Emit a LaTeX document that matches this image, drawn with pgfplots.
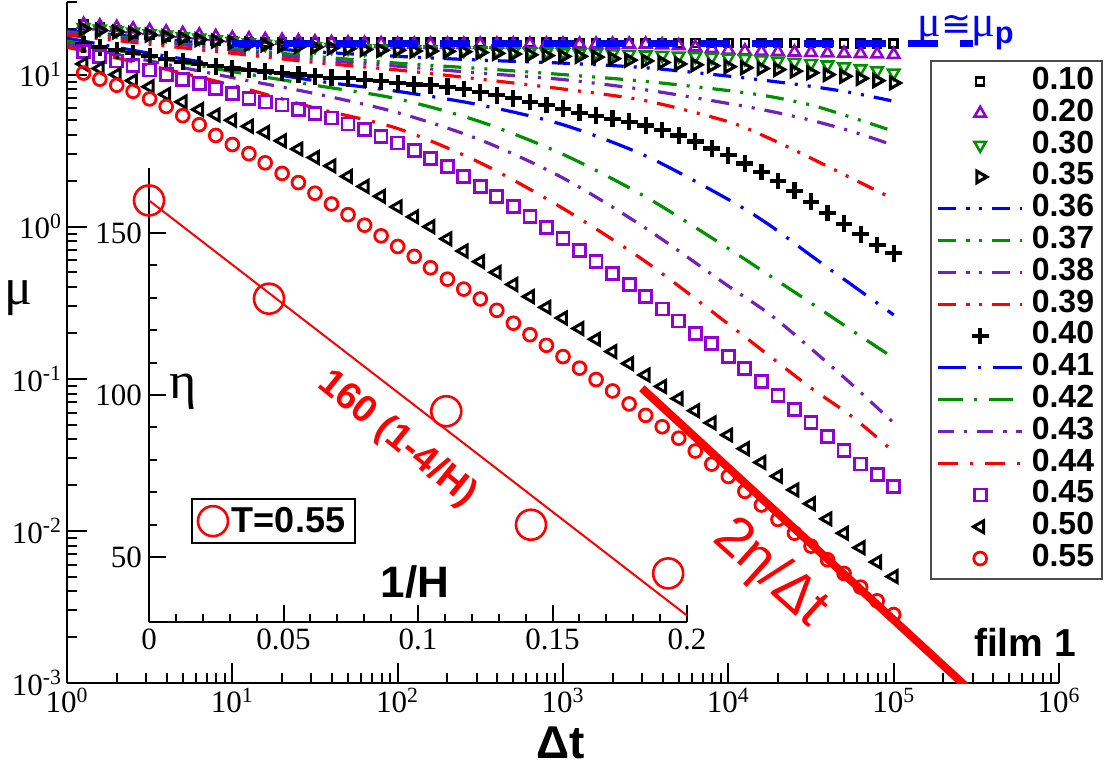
\documentclass[border=0pt]{standalone}
\usepackage{fontspec}
\setmainfont{Liberation Sans}
\newfontfamily\serif{Liberation Serif}
\newfontfamily\dejavu{DejaVu Sans}
\usepackage{pgfplots}
\usepackage{pgfplotstable}
\pgfplotsset{compat=1.18}
\definecolor{xblue}{RGB}{0,0,255}
\definecolor{xgreen}{RGB}{0,145,0}
\definecolor{xviolet}{RGB}{148,0,211}
\definecolor{xindigo}{RGB}{114,33,188}
\definecolor{xred}{RGB}{255,0,0}

% marker series: a=0.10 b=0.20 c=0.30 d=0.35 e=0.40 f=0.45 g=0.50 h=0.55
\pgfplotstableread{
dt a b c d e f g h
1.26 21.38 21.38 20.42 19.95 15.85 14.13 11.75 10.23
1.58 20.42 20.89 19.95 19.50 15.14 13.18 10.96 9.33
2.00 19.50 20.42 19.50 19.05 14.45 12.30 10.0 8.51
2.51 18.62 19.95 19.05 18.62 13.80 11.48 9.12 7.76
3.16 18.20 19.50 18.62 18.20 13.18 10.72 8.32 6.92
3.98 17.78 19.05 18.20 17.78 12.59 10.0 7.41 6.17
5.01 17.38 18.62 17.78 17.38 12.16 9.33 6.61 5.37
6.31 16.98 18.20 17.38 16.98 11.75 8.71 5.89 4.68
7.94 16.79 17.78 16.98 16.60 11.35 8.13 5.43 3.98
10 16.60 17.38 16.60 16.22 10.96 7.50 5.01 3.47
12.6 16.41 17.18 16.22 15.85 10.72 7.00 4.57 3.02
15.8 16.22 16.98 15.85 15.67 10.47 6.61 4.17 2.63
20.0 16.22 16.79 15.67 15.49 10.23 6.31 3.67 2.24
25.1 16.22 16.60 15.49 15.31 10.0 5.89 3.24 1.95
31.6 16.22 16.41 15.31 15.14 9.77 5.56 2.85 1.66
39.8 16.22 16.22 15.14 14.96 9.55 5.19 2.51 1.41
50.1 16.22 16.14 14.96 14.79 9.44 4.73 2.14 1.20
63.1 16.22 16.03 14.79 14.62 9.23 4.35 1.84 1.023
79.4 16.22 15.96 14.79 14.45 9.02 3.94 1.585 0.871
100 16.22 15.85 14.69 14.45 8.81 3.55 1.349 0.741
126 16.22 15.85 14.62 14.29 8.61 3.16 1.161 0.638
158 16.22 15.85 14.59 14.29 8.51 2.82 1.0 0.537
200 16.22 15.85 14.55 14.22 8.32 2.48 0.832 0.452
251 16.22 15.85 14.45 14.13 8.04 2.14 0.692 0.389
316 16.22 15.85 14.35 13.96 7.67 1.84 0.589 0.335
398 16.22 15.85 14.29 13.80 7.33 1.585 0.501 0.282
501 16.22 15.85 14.19 13.65 7.00 1.365 0.417 0.232
631 16.22 15.85 14.13 13.49 6.61 1.17 0.347 0.195
794 16.22 15.85 14.03 13.34 6.31 0.989 0.295 0.166
1000 16.22 15.85 13.96 13.18 5.96 0.832 0.251 0.140
1259 16.1 15.85 13.87 13.18 5.62 0.700 0.214 0.1175
1585 16.1 15.85 13.80 13.03 5.37 0.589 0.182 0.0989
1995 16.1 15.85 13.71 12.74 5.13 0.495 0.151 0.0832
2512 16.1 15.85 13.61 12.45 4.90 0.417 0.126 0.0684
3162 16.1 15.85 13.49 12.30 4.62 0.347 0.1059 0.0575
3981 16.1 15.67 13.40 12.02 4.32 0.288 0.0891 0.0484
5012 16.1 15.49 13.27 11.75 3.98 0.240 0.0741 0.0407
6310 16.1 15.14 13.18 11.59 3.63 0.1995 0.0617 0.0335
7943 16.1 14.79 13.03 11.43 3.27 0.170 0.0513 0.0275
10000 16.1 14.45 12.88 11.27 2.95 0.141 0.0427 0.0228
12589 16.1 14.29 12.76 11.09 2.60 0.1175 0.0347 0.0182
15849 16.1 14.19 12.53 10.96 2.29 0.0955 0.0282 0.0148
19953 16.1 14.13 12.30 10.79 2.00 0.0776 0.0229 0.0119
25119 16.1 14.03 12.08 10.54 1.72 0.0631 0.0186 0.00966
31623 16.1 13.96 11.83 10.28 1.46 0.0513 0.0151 0.00794
39811 16.1 13.87 11.59 10.0 1.23 0.0417 0.0120 0.00646
50119 16.0 13.80 11.27 9.75 1.047 0.0339 0.00966 0.00525
63096 16.0 13.71 10.96 9.44 0.891 0.0275 0.00776 0.00427
79433 16.0 13.65 10.62 9.12 0.759 0.0234 0.00624 0.00347
100000 16.0 13.55 10.26 8.81 0.668 0.0195 0.00501 0.00282
}\marks

% line series
\pgfplotstableread{
dt l36 l37 l38 l39 l41 l42 l43 l44
1 19.50 19.05 18.62 18.20 17.38 16.60 15.85 15.14
3.16 17.38 16.98 16.60 15.85 13.80 13.18 12.30 11.48
10 15.49 14.79 14.45 13.80 11.22 10.47 9.55 8.51
31.6 14.13 13.18 12.59 12.02 9.12 8.51 7.50 6.03
100 13.18 11.89 11.35 10.72 7.76 6.92 5.62 4.42
316 12.45 10.96 10.23 9.33 6.31 4.90 3.72 2.63
1000 11.89 10.0 9.27 8.04 4.68 2.99 2.09 1.318
3162 11.09 9.02 7.94 6.73 2.92 1.57 0.977 0.589
10000 9.77 7.85 6.46 4.90 1.51 0.719 0.407 0.229
17783 9.08 7.18 5.75 3.80 1.023 0.476 0.266 0.141
31623 8.37 6.31 5.01 2.82 0.646 0.315 0.158 0.0871
56234 7.59 5.21 4.22 2.07 0.412 0.207 0.0912 0.0562
100000 6.68 4.24 3.43 1.52 0.263 0.137 0.0513 0.0331
}\lines

\begin{document}
\begin{tikzpicture}
\useasboundingbox (-33.5pt,-42.5pt) rectangle (519.5pt,341.5pt);
\begin{axis}[
  at={(0pt,0pt)}, anchor=south west,
  scale only axis, width=496pt, height=340.5pt,
  xmode=log, ymode=log, xmin=1, xmax=1e6, ymin=1e-3, ymax=30,
  axis lines*=left, axis line style={-, line width=1.3pt},
  xtick={1,10,100,1000,10000,100000,1000000},
  xticklabels={{10\textsuperscript{0}},{10\textsuperscript{1}},{10\textsuperscript{2}},{10\textsuperscript{3}},{10\textsuperscript{4}},{10\textsuperscript{5}},{10\textsuperscript{6}}},
  ytick={0.001,0.01,0.1,1,10},
  yticklabels={{10\textsuperscript{-3}},{10\textsuperscript{-2}},{10\textsuperscript{-1}},{10\textsuperscript{0}},{10\textsuperscript{1}}},
  minor xtick={2,3,4,5,6,7,8,9,20,30,40,50,60,70,80,90,200,300,400,500,600,700,800,900,2000,3000,4000,5000,6000,7000,8000,9000,20000,30000,40000,50000,60000,70000,80000,90000,200000,300000,400000,500000,600000,700000,800000,900000},
  minor ytick={0.002,0.003,0.004,0.005,0.006,0.007,0.008,0.009,0.02,0.03,0.04,0.05,0.06,0.07,0.08,0.09,0.2,0.3,0.4,0.5,0.6,0.7,0.8,0.9,2,3,4,5,6,7,8,9,20,30},
  major tick length=10pt, minor tick length=5pt,
  every tick/.append style={black, line width=1pt},
  tick label style={font=\serif\fontsize{15.5}{17}\selectfont},
  xticklabel style={yshift=1pt},
  yticklabel style={xshift=1pt},
  legend image code/.code={\draw[mark repeat=2,mark phase=2,#1] plot coordinates {(0pt,0pt) (21pt,0pt) (42pt,0pt)};},
  legend cell align=left,
  legend style={at={(1.0444,0.9148)}, anchor=north east, draw=black!70, line width=1pt, fill=white,
    font=\fontsize{16}{16}\selectfont\bfseries, inner xsep=3pt, inner ysep=2.3pt, row sep=0pt, column sep=3pt,
    nodes={inner sep=1pt, text height=10.9pt, text depth=3pt}},
]
\addplot[black, only marks, mark=square, mark size=2pt, mark options={solid, line width=1.3pt}] table[x=dt,y=a]{\marks};
\addlegendentry{0.10}
\addplot[xviolet, only marks, mark=triangle, mark size=3.3pt, mark options={solid, line width=1.3pt}] table[x=dt,y=b]{\marks};
\addlegendentry{0.20}
\addplot[xgreen, only marks, mark=triangle, mark size=3.3pt, mark options={solid, rotate=180, line width=1.3pt}] table[x=dt,y=c]{\marks};
\addlegendentry{0.30}
\addplot[black, only marks, mark=triangle, mark size=3.3pt, mark options={solid, rotate=-90, line width=1.6pt}] table[x=dt,y=d]{\marks};
\addlegendentry{0.35}
\addplot[xblue, line width=1.6pt, smooth, dash pattern=on 9pt off 5pt on 1.5pt off 5pt on 1.5pt off 5pt] table[x=dt,y=l36]{\lines};
\addlegendentry{0.36}
\addplot[xgreen, line width=1.6pt, smooth, dash pattern=on 9pt off 5pt on 1.5pt off 5pt on 1.5pt off 5pt] table[x=dt,y=l37]{\lines};
\addlegendentry{0.37}
\addplot[xindigo, line width=1.6pt, smooth, dash pattern=on 9pt off 5pt on 1.5pt off 5pt on 1.5pt off 5pt] table[x=dt,y=l38]{\lines};
\addlegendentry{0.38}
\addplot[xred, line width=1.6pt, smooth, dash pattern=on 9pt off 5pt on 1.5pt off 5pt on 1.5pt off 5pt] table[x=dt,y=l39]{\lines};
\addlegendentry{0.39}
\addplot[black, only marks, mark=+, mark size=4.2pt, mark options={solid, line width=2.1pt}] table[x=dt,y=e]{\marks};
\addlegendentry{0.40}
\addplot[xblue, line width=1.6pt, smooth, dash pattern=on 14pt off 6pt on 1.5pt off 6pt] table[x=dt,y=l41]{\lines};
\addlegendentry{0.41}
\addplot[xgreen, line width=1.6pt, smooth, dash pattern=on 12pt off 6pt on 1.5pt off 6pt] table[x=dt,y=l42]{\lines};
\addlegendentry{0.42}
\addplot[xindigo, line width=1.6pt, smooth, dash pattern=on 8pt off 5pt on 1.5pt off 5pt] table[x=dt,y=l43]{\lines};
\addlegendentry{0.43}
\addplot[xred, line width=1.6pt, smooth, dash pattern=on 10pt off 6pt on 1.5pt off 6pt] table[x=dt,y=l44]{\lines};
\addlegendentry{0.44}
\addplot[xviolet, only marks, mark=square, mark size=3pt, mark options={solid, line width=1.4pt}] table[x=dt,y=f]{\marks};
\addlegendentry{0.45}
\addplot[black, only marks, mark=triangle, mark size=3.4pt, mark options={solid, rotate=90, line width=1.5pt}] table[x=dt,y=g]{\marks};
\addlegendentry{0.50}
\addplot[xred, only marks, mark=o, mark size=3.2pt, mark options={solid, line width=1.4pt}] table[x=dt,y=h]{\marks};
\addlegendentry{0.55}
\addplot[xred, line width=4pt, forget plot] coordinates {(3000,0.0867) (300000,0.000867)};
\end{axis}

% overlay axis (same scales) for the mu_p reference line drawn above the markers
\begin{axis}[
  at={(0pt,0pt)}, anchor=south west,
  scale only axis, width=496pt, height=340.5pt,
  xmode=log, ymode=log, xmin=1, xmax=1e6, ymin=1e-3, ymax=30,
  hide axis,
]
\addplot[xblue, line width=3.8pt, dash pattern=on 15pt off 11pt] coordinates {(10,16.0) (300000,16.0)};
\end{axis}

\begin{axis}[
  at={(41pt,30.5pt)}, anchor=south west,
  scale only axis, width=269pt, height=227pt,
  xmin=0, xmax=0.2, ymin=30, ymax=170,
  axis lines*=left, axis line style={-, line width=1.2pt},
  xtick={0,0.05,0.1,0.15,0.2}, xticklabels={0,0.05,0.1,0.15,0.2},
  ytick={50,100,150}, yticklabels={50,100,150},
  minor x tick num=4, minor y tick num=4,
  major tick length=8.5pt, minor tick length=4pt,
  every tick/.append style={black, line width=1pt},
  tick label style={font=\serif\fontsize{15.5}{17}\selectfont},
  legend image code/.code={\draw[mark repeat=2,mark phase=2,#1] plot coordinates {(0pt,0pt) (9pt,0pt) (18pt,0pt)};},
  legend style={at={(0.078,0.273)}, anchor=north west, draw=black, line width=1pt, fill=none,
    font=\fontsize{18}{20}\selectfont\bfseries, inner xsep=3pt, inner ysep=2pt},
]
\addplot[xred, line width=1pt, forget plot] coordinates {(0,160) (0.2,32)};
\addplot[xred, only marks, mark=o, mark size=7.5pt, mark options={solid, line width=1.3pt}] coordinates {(0,160) (0.0446,129.7) (0.1105,95) (0.142,60) (0.193,45)};
\addlegendentry{T=0.55}
\end{axis}

\node[font=\serif\fontsize{26}{28}\selectfont] at (-24.5pt,192.5pt) {μ};
\node[font=\bfseries\fontsize{23}{25}\selectfont] at (247pt,-30pt) {Δt};
\node[font=\bfseries\fontsize{19.5}{21}\selectfont] at (479pt,20.5pt) {film 1};
\node[text=xblue, inner sep=0pt, anchor=north, font=\fontsize{22}{24}\selectfont] at (449.5pt,334pt) {{\serif μ}{\dejavu\fontsize{18}{20}\selectfont ≅}{\serif μ}\textsubscript{\bfseries p}};
\node[font=\serif\fontsize{26}{28}\selectfont] at (58pt,145.5pt) {η};
\node[font=\bfseries\fontsize{22}{24}\selectfont] at (174pt,50.5pt) {1/H};
\node[text=xred, rotate=-39, font=\bfseries\fontsize{19}{21}\selectfont] at (165pt,122pt) {160 (1-4/H)};
\node[text=xred, rotate=-42, font=\fontsize{28}{30}\selectfont] at (351.5pt,55pt) {2η/Δt};
\end{tikzpicture}
\end{document}
